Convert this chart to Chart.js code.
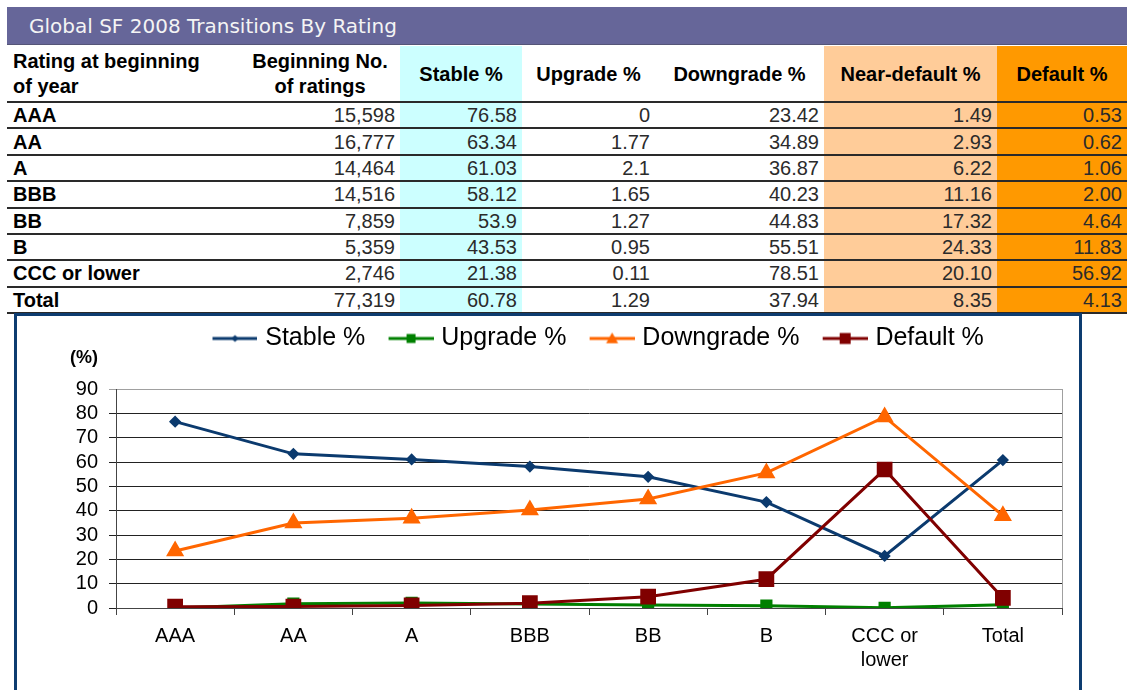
<!DOCTYPE html>
<html>
<head>
<meta charset="utf-8">
<script src="https://cdn.jsdelivr.net/npm/chart.js@4.4.1/dist/chart.umd.min.js"></script>
<style>
  body { margin: 0; background: #fff; width: 1128px; height: 690px; overflow: hidden; position: relative; font-family: "Liberation Sans", Arial, sans-serif; }
  #titulo { position: absolute; left: 7px; top: 7px; width: 1120px; height: 38px; background: #666699; border-bottom: 1px solid #555577; color: #f4f4f4; font-family: "DejaVu Sans", Verdana, sans-serif; font-size: 20px; line-height: 38px; box-sizing: border-box; padding-left: 22px; }
  .cel { position: absolute; font-size: 20px; white-space: nowrap; box-sizing: border-box; display: flex; align-items: center; }
  .linha { position: absolute; left: 7px; width: 1120px; height: 2px; background: #2a2a2a; }
  .faixa { position: absolute; top: 46px; height: 268px; }
  #caixa { position: absolute; left: 14px; top: 313px; width: 1062px; height: 380px; border: 3px solid #0d3c70; border-bottom: none; background: #fff; }
  #pct { position: absolute; left: 70px; top: 347px; font-weight: bold; font-size: 18px; color: #000; }
</style>
</head>
<body>
<div id="titulo">Global SF 2008 Transitions By Rating</div>
<div id="tabela"></div>
<div id="caixa"><canvas id="lineGrafico" width="1062" height="374"></canvas></div>
<div id="pct">(%)</div>
<script>
// dados da tabela / gráfico
const ratings = ["AAA", "AA", "A", "BBB", "BB", "B", "CCC or lower", "Total"];
const chartLabels = ["AAA", "AA", "A", "BBB", "BB", "B", ["CCC or", "lower"], "Total"];
const beginCount = [15598, 16777, 14464, 14516, 7859, 5359, 2746, 77319];
const stablePct = [76.58, 63.34, 61.03, 58.12, 53.9, 43.53, 21.38, 60.78];
const upgradePct = [0, 1.77, 2.1, 1.65, 1.27, 0.95, 0.11, 1.29];
const downgradePct = [23.42, 34.89, 36.87, 40.23, 44.83, 55.51, 78.51, 37.94];
const nearDefaultPct = [1.49, 2.93, 6.22, 11.16, 17.32, 24.33, 20.10, 8.35];
const defaultPct = [0.53, 0.62, 1.06, 2.00, 4.64, 11.83, 56.92, 4.13];
const yMin = 0, yMax = 90, yStep = 10;

// colunas da tabela (posição, largura, fundo)
const cols = [
  { l: 7, w: 233 },
  { l: 240, w: 160 },
  { l: 400, w: 122, bg: "#ccffff" },
  { l: 522, w: 133 },
  { l: 655, w: 169 },
  { l: 824, w: 173, bg: "#ffcc99" },
  { l: 997, w: 130, bg: "#ff9900" },
];
const headers = ["Rating at beginning<br>of year", "Beginning No.<br>of ratings", "Stable %", "Upgrade %", "Downgrade %", "Near-default %", "Default %"];

let tabela = document.getElementById("tabela");
let html = "";
cols.forEach((c) => {
  if (c.bg) html += `<div class="faixa" style="left:${c.l}px;width:${c.w}px;background:${c.bg}"></div>`;
});
// cabeçalho
headers.forEach((h, i) => {
  let c = cols[i];
  let just = i === 0 ? "flex-start" : "center";
  let pad = i === 0 ? "padding-left:6px;" : "";
  html += `<div class="cel" style="left:${c.l}px;top:46px;width:${c.w}px;height:56px;font-weight:bold;line-height:25px;justify-content:${just};text-align:${i === 0 ? "left" : "center"};${pad}">${h}</div>`;
});
const rowH = 26.375;
html += `<div class="linha" style="top:101px"></div>`;
for (let r = 0; r < ratings.length; r++) {
  let top = 102 + r * rowH;
  let vals = [
    ratings[r],
    beginCount[r].toLocaleString("en-US"),
    String(stablePct[r]),
    String(upgradePct[r]),
    String(downgradePct[r]),
    nearDefaultPct[r].toFixed(2),
    defaultPct[r].toFixed(2),
  ];
  vals.forEach((v, i) => {
    let c = cols[i];
    let st = i === 0 ? "font-weight:bold;color:#000;padding-left:6px;justify-content:flex-start;" : "color:#2b2b2b;padding-right:5px;justify-content:flex-end;";
    html += `<div class="cel" style="left:${c.l}px;top:${top + 1}px;width:${c.w}px;height:${rowH - 1}px;${st}">${v}</div>`;
  });
  html += `<div class="linha" style="top:${Math.round(top + rowH - 1)}px"></div>`;
}
tabela.innerHTML = html;

// ícones da legenda (linha + marcador)
function legendIcon(color, marker, size) {
  let cv = document.createElement("canvas");
  cv.width = 63;
  cv.height = 18;
  let ctx = cv.getContext("2d");
  ctx.strokeStyle = color;
  ctx.fillStyle = color;
  ctx.lineWidth = 3;
  ctx.beginPath();
  ctx.moveTo(18, 9);
  ctx.lineTo(63, 9);
  ctx.stroke();
  let cx = 40.5, cy = 9;
  ctx.beginPath();
  if (marker === "diamond") {
    ctx.moveTo(cx, cy - size); ctx.lineTo(cx + size, cy); ctx.lineTo(cx, cy + size); ctx.lineTo(cx - size, cy);
  } else if (marker === "square") {
    ctx.rect(cx - size, cy - size, size * 2, size * 2);
  } else {
    ctx.moveTo(cx, cy - size); ctx.lineTo(cx + size, cy + size * 0.8); ctx.lineTo(cx - size, cy + size * 0.8);
  }
  ctx.closePath();
  ctx.fill();
  return cv;
}

const seriesColors = ["#0b3a6e", "#008000", "#ff6600", "#800000"];
const legendIcons = [
  legendIcon(seriesColors[0], "diamond", 3.5),
  legendIcon(seriesColors[1], "square", 4.5),
  legendIcon(seriesColors[2], "triangle", 6),
  legendIcon(seriesColors[3], "square", 5.5),
];

const boxPlugin = {
  id: "boxPlugin",
  beforeInit(chart) {
    const fitOriginal = chart.legend.fit;
    chart.legend.fit = function () {
      fitOriginal.bind(chart.legend)();
      this.height = 73;
    };
  },
  afterLayout(chart) {
    chart.legend.left += 52;
    chart.legend.right += 52;
  },
  afterDraw(chart) {
    const { ctx, chartArea } = chart;
    ctx.save();
    ctx.strokeStyle = "#a0a0a0";
    ctx.lineWidth = 1;
    ctx.beginPath();
    ctx.moveTo(chartArea.right + 0.5, chartArea.top);
    ctx.lineTo(chartArea.right + 0.5, chartArea.bottom);
    ctx.stroke();
    ctx.restore();
  },
};

let lineGrafico = document.getElementById("lineGrafico");
const config = {
  type: "line",
  data: {
    labels: chartLabels,
    datasets: [
      {
        label: "Stable %",
        data: stablePct,
        borderColor: seriesColors[0],
        backgroundColor: seriesColors[0],
        borderWidth: 3,
        pointStyle: "rectRot",
        pointRadius: 4,
        order: 4,
      },
      {
        label: "Upgrade %",
        data: upgradePct,
        borderColor: seriesColors[1],
        backgroundColor: seriesColors[1],
        borderWidth: 3,
        pointStyle: "rect",
        pointRadius: 6.5,
        order: 3,
      },
      {
        label: "Downgrade %",
        data: downgradePct,
        borderColor: seriesColors[2],
        backgroundColor: seriesColors[2],
        borderWidth: 3,
        pointStyle: "triangle",
        pointRadius: 7.5,
        order: 2,
      },
      {
        label: "Default %",
        data: defaultPct,
        borderColor: seriesColors[3],
        backgroundColor: seriesColors[3],
        borderWidth: 3,
        pointStyle: "rect",
        pointRadius: 9,
        order: 1,
      },
    ],
  },
  options: {
    responsive: false,
    animation: false,
    layout: { padding: { left: 0, right: 17, top: 0, bottom: 0 } },
    plugins: {
      tooltip: { enabled: false },
      legend: {
        display: true,
        position: "top",
        labels: {
          usePointStyle: true,
          pointStyleWidth: 53.5,
          padding: 10,
          color: "#000",
          font: { family: "'Liberation Sans', Arial, sans-serif", size: 25 },
          sort: (a, b) => a.datasetIndex - b.datasetIndex,
          generateLabels(chart) {
            const items = Chart.defaults.plugins.legend.labels.generateLabels(chart);
            items.forEach((it) => { it.pointStyle = legendIcons[it.datasetIndex]; });
            return items;
          },
        },
      },
    },
    scales: {
      x: {
        offset: true,
        grid: { display: true, offset: true, drawOnChartArea: false, drawTicks: true, tickLength: 7, color: "#444" },
        border: { display: true, color: "#444", width: 1 },
        ticks: { color: "#000", padding: 9, maxRotation: 0, autoSkip: false, font: { family: "'Liberation Sans', Arial, sans-serif", size: 20 } },
        afterFit(scale) { scale.height = 82; },
      },
      y: {
        min: yMin,
        max: yMax,
        ticks: { stepSize: yStep, autoSkip: false, color: "#000", padding: 11, font: { family: "'Liberation Sans', Arial, sans-serif", size: 20 } },
        grid: {
          color: (c) => (c.tick && c.tick.value === yMax ? "#a0a0a0" : "#222"),
          tickLength: 7,
          drawTicks: true,
        },
        border: { display: true, color: "#444", width: 1 },
        afterFit(scale) { scale.width = 99; },
      },
    },
  },
  plugins: [boxPlugin],
};

let myGraph = new Chart(lineGrafico, config);
</script>
</body>
</html>
